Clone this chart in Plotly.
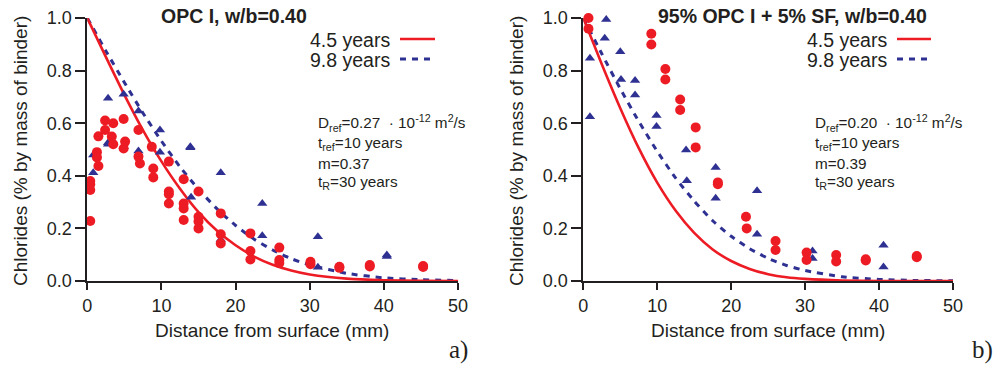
import plotly.graph_objects as go

# ---------------- data ----------------
# model curves (x in mm, chloride % by mass of binder)
curve_x = [0, 2.5, 5, 7.5, 10, 12.5, 15, 17.5, 20, 22.5, 25, 27.5, 30, 35, 40, 45, 50]
a_red_curve = [1.0, 0.852, 0.708, 0.574, 0.455, 0.351, 0.262, 0.191, 0.136, 0.093, 0.062, 0.040, 0.025, 0.009, 0.003, 0.001, 0.0]
a_blue_curve = [1.0, 0.875, 0.755, 0.639, 0.532, 0.434, 0.349, 0.274, 0.211, 0.159, 0.118, 0.085, 0.061, 0.029, 0.012, 0.005, 0.002]
b_red_curve = [1.0, 0.824, 0.657, 0.505, 0.374, 0.267, 0.183, 0.120, 0.076, 0.046, 0.026, 0.014, 0.008, 0.002, 0.0, 0.0, 0.0]
b_blue_curve = [1.0, 0.864, 0.731, 0.607, 0.493, 0.391, 0.304, 0.229, 0.170, 0.123, 0.086, 0.059, 0.040, 0.016, 0.006, 0.002, 0.001]

# panel a) measured points
a_red_x = [0.4, 0.4, 0.4, 0.4, 1.3, 1.3, 1.5, 1.5, 2.4, 2.4, 3.3, 3.5, 3.5, 4.9, 4.9, 5.1, 6.9, 6.9, 7.1,
           8.7, 8.9, 8.9, 11.0, 11.0, 11.0, 11.0, 13.0, 13.0, 13.0, 13.0, 15.0, 15.0, 15.0, 15.0,
           18.0, 18.0, 18.0, 22.0, 22.0, 22.0, 25.9, 25.9, 25.9, 30.1, 30.1, 34.0, 34.0, 38.1, 38.1, 45.3, 45.3]
a_red_y = [0.368, 0.346, 0.228, 0.38, 0.49, 0.47, 0.437, 0.55, 0.61, 0.574, 0.549, 0.60, 0.52, 0.616, 0.504, 0.53, 0.574, 0.473, 0.447,
           0.51, 0.428, 0.394, 0.454, 0.34, 0.33, 0.295, 0.387, 0.295, 0.276, 0.232, 0.34, 0.244, 0.226, 0.20,
           0.257, 0.178, 0.143, 0.181, 0.114, 0.082, 0.127, 0.08, 0.068, 0.073, 0.064, 0.054, 0.05, 0.061, 0.055, 0.057, 0.053]
a_blue_x = [0.8, 0.8, 2.8, 2.8, 2.8, 4.9, 4.9, 6.9, 6.9, 9.8, 9.8, 13.9, 13.9, 14.0, 18.0, 18.0, 23.6, 23.6, 31.1, 31.1, 40.4, 40.4]
a_blue_y = [0.479, 0.412, 0.695, 0.52, 0.526, 0.71, 0.51, 0.646, 0.494, 0.574, 0.49, 0.507, 0.51, 0.318, 0.412, 0.158, 0.295, 0.172, 0.168, 0.052, 0.099, 0.093]

# panel b) measured points
b_red_x = [0.7, 0.7, 9.2, 9.2, 11.1, 11.1, 13.1, 13.1, 15.2, 15.2, 18.2, 18.2, 22.0, 22.1, 26.0, 26.0, 30.2, 30.2, 34.2, 34.2, 38.2, 38.2, 45.1, 45.1]
b_red_y = [1.0, 0.959, 0.94, 0.899, 0.806, 0.766, 0.69, 0.65, 0.584, 0.508, 0.375, 0.368, 0.244, 0.2, 0.152, 0.118, 0.108, 0.08, 0.099, 0.074, 0.083, 0.078, 0.095, 0.09]
b_blue_x = [0.9, 0.9, 2.9, 3.1, 5.0, 5.1, 7.0, 7.0, 9.9, 9.9, 13.9, 14.0, 17.9, 17.9, 23.5, 23.5, 31.0, 31.0, 40.6, 40.6]
b_blue_y = [0.847, 0.625, 0.923, 0.994, 0.872, 0.766, 0.762, 0.707, 0.629, 0.587, 0.498, 0.381, 0.432, 0.315, 0.343, 0.178, 0.114, 0.086, 0.136, 0.053]

x_ticks = [0, 10, 20, 30, 40, 50]
y_ticks = [0.0, 0.2, 0.4, 0.6, 0.8, 1.0]
y_tick_text = ["0.0", "0.2", "0.4", "0.6", "0.8", "1.0"]

titles = ["OPC I, w/b=0.40", "95% OPC I + 5% SF, w/b=0.40"]
legend_labels = ["4.5 years", "9.8 years"]
params = [
    ["D<sub>ref</sub>=0.27  · 10<sup>-12</sup> m<sup>2</sup>/s", "t<sub>ref</sub>=10 years", "m=0.37", "t<sub>R</sub>=30 years"],
    ["D<sub>ref</sub>=0.20  · 10<sup>-12</sup> m<sup>2</sup>/s", "t<sub>ref</sub>=10 years", "m=0.39", "t<sub>R</sub>=30 years"],
]
panel_tags = ["a)", "b)"]

# ---------------- styling ----------------
W, H = 995, 367
RED = "#ED1C24"
BLUE = "#2E3192"
INK = "#231F20"
FONT = "Liberation Sans, Arial, sans-serif"

def px(x):
    return x / W

def py(y):
    return 1 - y / H

x_domains = [[px(87.3), px(458.0)], [px(583.3), px(953.0)]]
y_domain = [py(281.0), py(18.0)]

fig = go.Figure()

panels = [
    (a_red_curve, a_blue_curve, a_red_x, a_red_y, a_blue_x, a_blue_y),
    (b_red_curve, b_blue_curve, b_red_x, b_red_y, b_blue_x, b_blue_y),
]

for i, (rc, bc, rx, ry, bx, by) in enumerate(panels):
    xa = "x" if i == 0 else "x2"
    ya = "y" if i == 0 else "y2"
    fig.add_trace(go.Scatter(x=curve_x, y=bc, mode="lines", xaxis=xa, yaxis=ya,
                             line=dict(color=BLUE, width=3, dash="6px,6px", shape="spline", smoothing=0.6),
                             showlegend=False, hoverinfo="skip"))
    fig.add_trace(go.Scatter(x=curve_x, y=rc, mode="lines", xaxis=xa, yaxis=ya,
                             line=dict(color=RED, width=2.6, shape="spline", smoothing=0.6),
                             showlegend=False, hoverinfo="skip"))
    fig.add_trace(go.Scatter(x=bx, y=by, mode="markers", xaxis=xa, yaxis=ya, cliponaxis=False,
                             marker=dict(symbol="triangle-up", size=9, color=BLUE, line=dict(width=0)),
                             showlegend=False))
    fig.add_trace(go.Scatter(x=rx, y=ry, mode="markers", xaxis=xa, yaxis=ya, cliponaxis=False,
                             marker=dict(symbol="circle", size=10, color=RED, line=dict(width=0)),
                             showlegend=False))

axis_common = dict(showgrid=False, zeroline=False, showline=True, linecolor=INK, linewidth=2,
                   ticks="outside", tickcolor=INK, tickwidth=1.5, automargin=False,
                   tickfont=dict(family=FONT, size=18, color=INK))

fig.update_layout(
    template="none",
    width=W, height=H,
    margin=dict(l=0, r=0, t=0, b=0, pad=0, autoexpand=False),
    paper_bgcolor="white", plot_bgcolor="white",
    showlegend=False,
    xaxis=dict(domain=x_domains[0], range=[0, 50], tickvals=x_ticks, ticklen=7, anchor="y", **axis_common),
    yaxis=dict(domain=y_domain, range=[0, 1.0], tickvals=y_ticks, ticktext=y_tick_text, ticklen=10, anchor="x", **axis_common),
    xaxis2=dict(domain=x_domains[1], range=[0, 50], tickvals=x_ticks, ticklen=7, anchor="y2", **axis_common),
    yaxis2=dict(domain=y_domain, range=[0, 1.0], tickvals=y_ticks, ticktext=y_tick_text, ticklen=10, anchor="x2", **axis_common),
)

ann = []
shapes = []
title_cx = [234, 792]
leg_text_x = [308, 805]
leg_line = [(400, 435), (897, 931)]
param_x = [316, 813]
ytitle_x = [20, 516]
xtitle_cx = [272, 768]
tag_x = [470, 995]

for i in range(2):
    ann.append(dict(text="<b>" + titles[i] + "</b>", x=px(title_cx[i]), y=py(16), xref="paper", yref="paper",
                    xanchor="center", yanchor="middle", showarrow=False,
                    font=dict(family=FONT, size=19.5, color=INK)))
    for j, lab in enumerate(legend_labels):
        yy = 40 + j * 20
        ann.append(dict(text=lab, x=px(leg_text_x[i]), y=py(yy), xref="paper", yref="paper",
                        xanchor="left", yanchor="middle", showarrow=False,
                        font=dict(family=FONT, size=19.5, color=INK)))
        shapes.append(dict(type="line", xref="paper", yref="paper",
                           x0=px(leg_line[i][0]), x1=px(leg_line[i][1]), y0=py(yy - 1), y1=py(yy - 1),
                           line=dict(color=RED if j == 0 else BLUE, width=2.6 if j == 0 else 3,
                                     dash="solid" if j == 0 else "6px,6px")))
    for k, line in enumerate(params[i]):
        ann.append(dict(text=line, x=px(param_x[i]), y=py(123 + 20 * k), xref="paper", yref="paper",
                        xanchor="left", yanchor="middle", showarrow=False,
                        font=dict(family=FONT, size=15.3, color=INK)))
    ann.append(dict(text="Chlorides (% by mass of binder)", x=px(ytitle_x[i]), y=py(151), xref="paper", yref="paper",
                    xanchor="center", yanchor="middle", textangle=-90, showarrow=False,
                    font=dict(family=FONT, size=19, color=INK)))
    ann.append(dict(text="Distance from surface (mm)", x=px(xtitle_cx[i]), y=py(330), xref="paper", yref="paper",
                    xanchor="center", yanchor="middle", showarrow=False,
                    font=dict(family=FONT, size=19, color=INK)))
    ann.append(dict(text=panel_tags[i], x=px(tag_x[i]), y=py(350), xref="paper", yref="paper",
                    xanchor="right", yanchor="middle", showarrow=False,
                    font=dict(family="Liberation Serif, Times New Roman, serif", size=25, color=INK)))

fig.update_layout(annotations=ann, shapes=shapes)

fig.write_html("out.html")
